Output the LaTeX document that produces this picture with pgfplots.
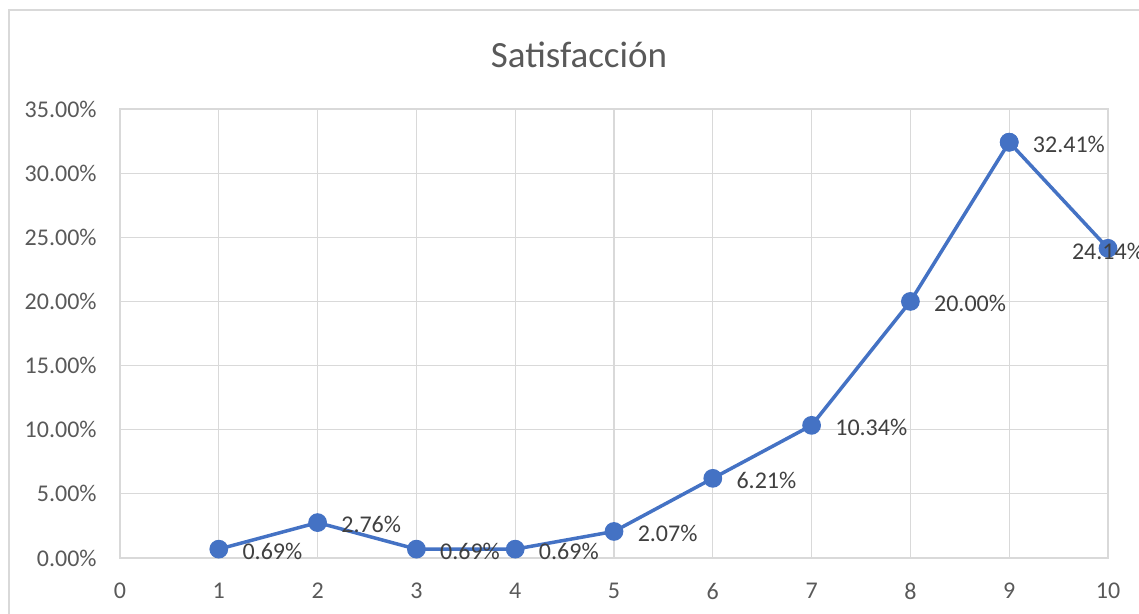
\documentclass[border=0pt]{standalone}
\usepackage{fontspec}
\setmainfont{Carlito}
\usepackage{pgfplots}
\pgfplotsset{compat=1.18}
\definecolor{linecol}{HTML}{4472C4}
\definecolor{gridcol}{HTML}{D9D9D9}
\definecolor{tickcol}{HTML}{595959}
\definecolor{labcol}{HTML}{404040}
\begin{document}
\begin{tikzpicture}
\useasboundingbox (0,0) rectangle (569.5pt,307pt);
\clip (0,0) rectangle (569.5pt,307pt);
\draw[gridcol, line width=0.6pt] (4.5pt,-10pt) rectangle (600pt,302pt);
\begin{axis}[
  at={(60pt,28pt)}, anchor=south west,
  width=494pt, height=224.5pt, scale only axis,
  xmin=0, xmax=10, ymin=0, ymax=35,
  xtick={0,1,...,10}, ytick={0,5,...,35},
  grid=major,
  major grid style={gridcol, line width=0.6pt},
  axis line style={gridcol, line width=0.6pt},
  major tick length=0pt,
  /pgf/number format/assume math mode=true,
  tick label style={font=\fontsize{12}{14}\selectfont, text=tickcol, inner sep=0pt},
  xticklabel shift=12.5pt,
  yticklabel shift=11.5pt,
  yticklabel={\pgfmathprintnumber[fixed,fixed zerofill,precision=2]{\tick}\%},
  point meta=y,
  every node near coord/.append style={font=\fontsize{12}{14}\selectfont, text=labcol, inner sep=0pt},
  clip=false,
]
\addplot[color=linecol, line width=1.75pt, mark=*, mark size=3.8pt,
  mark options={fill=linecol, draw=linecol},
  nodes near coords={\pgfmathprintnumber[fixed,fixed zerofill,precision=2]{\pgfplotspointmeta}\%},
  every node near coord/.append style={anchor=west, xshift=11pt, yshift=-1pt},
  ] coordinates {
  (1,0.69) (2,2.76) (3,0.69) (4,0.69) (5,2.07) (6,6.21) (7,10.34) (8,20.00) (9,32.41)
};
\addplot[color=linecol, line width=1.75pt, mark=*, mark size=3.8pt,
  mark options={fill=linecol, draw=linecol}, forget plot] coordinates {(9,32.41) (10,24.14)};
\addplot[draw=none, mark=none,
  nodes near coords={\pgfmathprintnumber[fixed,fixed zerofill,precision=2]{\pgfplotspointmeta}\%},
  every node near coord/.append style={anchor=center, xshift=0pt, yshift=-1.5pt},
  ] coordinates {(10,24.14)};
\end{axis}
\node[anchor=base, font=\fontsize{18.5}{22}\selectfont, text=tickcol] at (289.5pt,273pt) {Satisfacción};
\end{tikzpicture}
\end{document}
